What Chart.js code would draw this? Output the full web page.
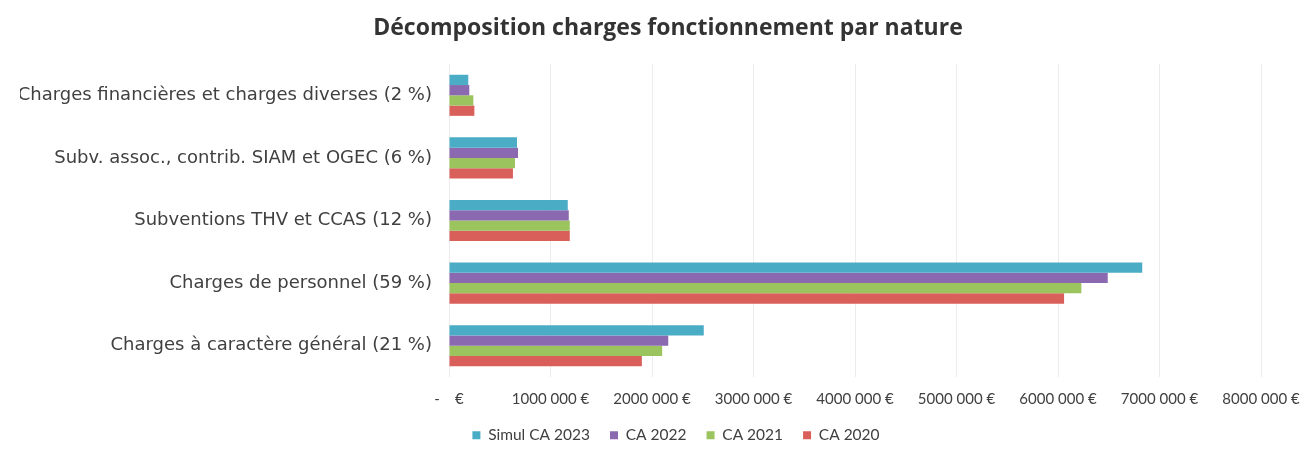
<!DOCTYPE html>
<html lang="fr">
<head>
<meta charset="utf-8">
<title>Décomposition charges fonctionnement par nature</title>
<script src="https://cdn.jsdelivr.net/npm/chart.js@4.4.1/dist/chart.umd.min.js"></script>
<style>
  html, body { margin: 0; padding: 0; background: #ffffff; }
  #wrap { width: 1316px; height: 454px; }
</style>
</head>
<body>
<div id="wrap"><canvas id="chart" width="1316" height="454"></canvas></div>
<script>
// Catégories (du haut vers le bas)
const categories = [
  'Charges financières et charges diverses (2 %)',
  'Subv. assoc., contrib. SIAM et OGEC (6 %)',
  'Subventions THV et CCAS (12 %)',
  'Charges de personnel (59 %)',
  'Charges à caractère général (21 %)'
];

// Montants en euros, par exercice
const simulCA2023 = [190000, 670000, 1170000, 6830000, 2510000];
const ca2022      = [200000, 680000, 1180000, 6490000, 2160000];
const ca2021      = [240000, 650000, 1190000, 6230000, 2100000];
const ca2020      = [250000, 630000, 1190000, 6060000, 1900000];

const seriesNames = ['Simul CA 2023', 'CA 2022', 'CA 2021', 'CA 2020'];

// Graduations de l'axe des montants
const xTicks = [0, 1000000, 2000000, 3000000, 4000000, 5000000, 6000000, 7000000, 8000000];

const colors = ['#4bacc6', '#8a69b0', '#9bc35e', '#d95f5a'];

function euro(v) {
  if (v === 0) return '-\u00a0\u00a0\u00a0\u00a0€';
  const s = String(v);
  return s.slice(0, -3) + ' ' + s.slice(-3) + ' €';
}

const values = [simulCA2023, ca2022, ca2021, ca2020];

// Décale la légende horizontalement après la mise en page
const legendShift = {
  id: 'legendShift',
  afterLayout(chart) {
    if (chart.legend) {
      chart.legend.left += 8;
      chart.legend.right += 8;
    }
  }
};

new Chart(document.getElementById('chart'), {
  type: 'bar',
  data: {
    labels: categories,
    datasets: values.map((d, i) => ({
      label: seriesNames[i],
      data: d,
      backgroundColor: colors[i],
      borderWidth: 0,
      barPercentage: 1,
      categoryPercentage: 0.656
    }))
  },
  plugins: [legendShift],
  options: {
    indexAxis: 'y',
    responsive: false,
    animation: false,
    layout: { padding: { left: 20, right: 0, top: 0, bottom: 1 } },
    plugins: {
      title: {
        display: true,
        text: 'Décomposition charges fonctionnement par nature',
        color: '#333333',
        font: { family: 'Open Sans', size: 23, weight: 'bold' },
        padding: { top: 15, bottom: 21.4 }
      },
      legend: {
        position: 'bottom',
        labels: {
          boxWidth: 8,
          boxHeight: 8,
          padding: 20,
          color: '#404040',
          font: { family: 'Lato', size: 15.5 }
        }
      },
      tooltip: { enabled: false }
    },
    scales: {
      x: {
        min: 0,
        max: 8000000,
        afterBuildTicks: (axis) => { axis.ticks = xTicks.map(v => ({ value: v })); },
        afterFit: (axis) => { axis.height = 30.5; axis.paddingLeft = 0; axis.paddingRight = 55; },
        grid: { color: '#ececec', drawTicks: false },
        border: { display: false },
        ticks: {
          padding: 13,
          color: '#404040',
          font: { family: 'Lato', size: 15 },
          maxRotation: 0,
          autoSkip: false,
          callback: (v) => euro(v)
        }
      },
      y: {
        afterFit: (axis) => { axis.width = 429; },
        grid: { display: false, drawTicks: false },
        border: { display: false },
        ticks: {
          padding: 17,
          color: '#404040',
          font: { family: 'DejaVu Sans', size: 18 }
        }
      }
    }
  }
});
</script>
</body>
</html>
